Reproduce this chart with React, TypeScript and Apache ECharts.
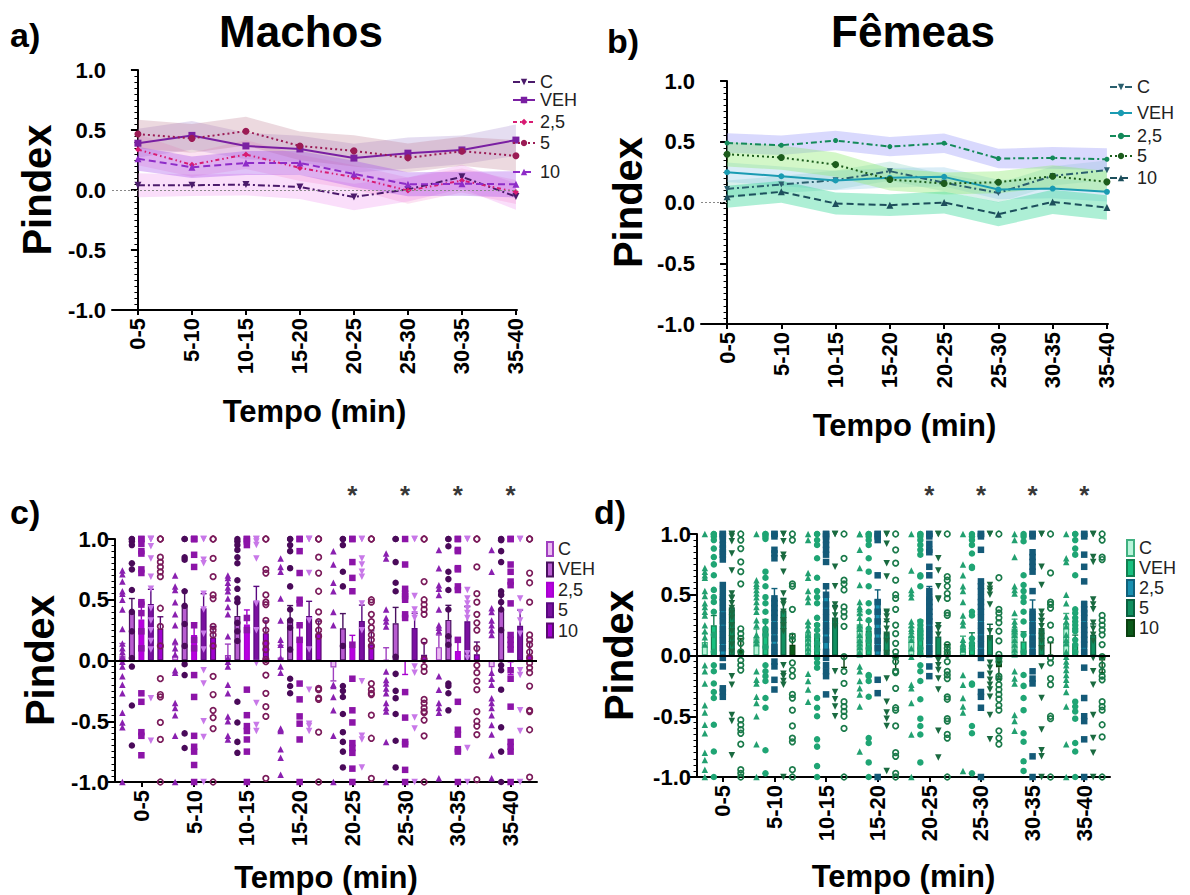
import React, { useEffect, useRef } from 'react';
import * as echarts from 'echarts';

const times = ['0-5', '5-10', '10-15', '15-20', '20-25', '25-30', '30-35', '35-40'];
const groups = ['C', 'VEH', '2,5', '5', '10'];
const starTimes = ['20-25', '25-30', '30-35', '35-40'];

// Machos: means and SEM
const mMeanC = [0.04, 0.04, 0.045, 0.025, -0.058, 0.005, 0.11, -0.055];
const mMeanVEH = [0.39, 0.455, 0.367, 0.342, 0.266, 0.307, 0.334, 0.416];
const mMean25 = [0.337, 0.21, 0.296, 0.184, 0.107, -0.005, 0.079, -0.016];
const mMean5 = [0.466, 0.43, 0.49, 0.367, 0.326, 0.268, 0.323, 0.285];
const mMean10 = [0.26, 0.19, 0.225, 0.225, 0.134, 0.047, 0.052, 0.047];
const mSemC = [0.1, 0.09, 0.09, 0.1, 0.11, 0.1, 0.1, 0.11];
const mSemVEH = [0.12, 0.12, 0.11, 0.11, 0.12, 0.13, 0.12, 0.13];
const mSem25 = [0.13, 0.1, 0.12, 0.11, 0.1, 0.11, 0.1, 0.1];
const mSem5 = [0.12, 0.12, 0.12, 0.12, 0.13, 0.12, 0.12, 0.13];
const mSem10 = [0.1, 0.09, 0.1, 0.1, 0.11, 0.1, 0.1, 0.11];

// Fêmeas: means and SEM
const fMeanC = [0.112, 0.148, 0.184, 0.258, 0.162, 0.079, 0.219, 0.266];
const fMeanVEH = [0.249, 0.216, 0.181, 0.203, 0.211, 0.107, 0.115, 0.088];
const fMean25 = [0.49, 0.471, 0.51, 0.46, 0.488, 0.362, 0.367, 0.356];
const fMean5 = [0.397, 0.37, 0.312, 0.189, 0.156, 0.167, 0.216, 0.17];
const fMean10 = [0.047, 0.088, -0.008, -0.022, 0.0, -0.096, 0.005, -0.041];
const fSemC = [0.07, 0.07, 0.08, 0.08, 0.07, 0.08, 0.08, 0.08];
const fSemVEH = [0.08, 0.08, 0.08, 0.08, 0.08, 0.08, 0.08, 0.08];
const fSem25 = [0.08, 0.08, 0.08, 0.08, 0.08, 0.08, 0.09, 0.09];
const fSem5 = [0.1, 0.1, 0.1, 0.09, 0.09, 0.09, 0.09, 0.09];
const fSem10 = [0.09, 0.09, 0.09, 0.09, 0.09, 0.1, 0.1, 0.1];

// Individual points, Machos (one list per time bin)
const mPtsC = [
  [0.74, 0.71, 0.65, 0.57, 0.55, 0.5, 0.42, 0.26, 0.14, 0.1, 0.07, 0.03, -0.01, -0.05, -0.13, -0.2, -0.27, -0.43, -0.51, -0.55, -1],
  [0.7, 0.61, 0.58, 0.48, 0.38, 0.29, 0.16, 0.1, 0.05, -0.08, -0.1, -0.35, -0.39, -0.45, -0.62, -1],
  [0.7, 0.68, 0.64, 0.6, 0.57, 0.51, 0.44, 0.38, 0.2, 0.02, -0.01, -0.05, -0.2, -0.27, -0.46, -0.5, -0.62, -0.65],
  [0.84, 0.77, 0.73, 0.51, 0.33, 0.17, 0.13, 0.02, -0.05, -0.1, -0.56, -0.57, -0.58, -0.73, -0.8, -0.94],
  [0.9, 0.79, 0.64, 0.57, 0.4, 0.29, -0.2, -0.21, -0.3, -0.41, -0.62, -1],
  [0.88, 0.84, 0.42, 0.35, 0.32, 0.28, -0.09, -0.16, -0.19, -0.23, -0.27, -0.35, -0.39, -0.42, -0.67, -1],
  [0.91, 0.76, 0.62, 0.59, 0.54, 0.42, 0.29, 0.27, 0.24, -0.13, -0.24, -0.35, -0.39, -0.43, -0.97],
  [0.91, 0.73, 0.43, 0.4, 0.33, 0.29, 0.25, 0.21, -0.1, -0.15, -0.2, -0.31, -0.35, -0.39, -0.45, -0.53, -0.61, -0.78, -0.97],
];
const mPtsVEH = [
  [1, 1, 0.98, 0.95, 0.8, 0.75, 0.58, 0.4, 0.24, 0.02, -0.05, -0.37, -0.7],
  [1, 1, 0.85, 0.83, 0.57, 0.45, 0.3, 0.12, -0.03, -0.12, -0.6, -0.72],
  [1, 0.98, 0.95, 0.91, 0.85, 0.8, 0.66, 0.59, 0.51, 0.48, 0.31, 0.24, 0.16, -0.34, -0.51, -0.67, -0.76],
  [1, 1, 0.95, 0.9, 0.76, 0.61, 0.42, 0.33, 0.27, 0.09, -0.15, -0.21, -0.27],
  [1, 1, 0.95, 0.73, 0.61, 0.12, -0.21, -0.25, -0.3, -0.44, -0.59, -0.67, -0.75, -0.88],
  [1, 1, 0.81, 0.64, 0.57, 0.03, -0.11, -0.25, -0.31, -0.44, -0.66, -0.88],
  [1, 1, 0.94, 0.73, 0.67, 0.58, 0.42, 0.2, 0.13, -0.19, -0.21, -0.27, -0.41],
  [1, 1, 0.99, 0.9, 0.81, 0.57, 0.54, 0.48, 0.42, 0.25, -0.04, -0.08, -0.24, -0.55, -0.75, -1],
];
const mPts25 = [
  [1, 1, 0.96, 0.9, 0.88, 0.75, 0.72, 0.48, 0.46, 0.39, 0.24, 0.1, -0.27, -0.34, -0.59, -0.62, -0.78],
  [1, 1, 1, 0.87, 0.77, 0.29, 0.17, 0.1, -0.12, -0.3, -0.62, -0.71, -0.75, -0.86, -1],
  [1, 1, 0.98, 0.95, 0.35, 0.25, -0.24, -0.45, -0.54, -0.58, -0.65, -0.75, -1],
  [1, 1, 0.9, 0.72, 0.5, 0.47, 0.29, 0.17, -0.19, -0.32, -0.46, -0.52, -0.65, -1],
  [1, 1, 0.81, 0.68, 0.57, 0.13, -0.15, -0.41, -0.51, -0.68, -0.72, -0.76, -0.89, -1],
  [1, 0.79, 0.59, 0.55, 0.53, 0.5, 0.38, 0.35, -0.26, -0.47, -0.67, -0.69, -0.9, -1],
  [1, 1, 0.91, 0.9, 0.76, 0.75, 0.61, 0.58, 0.17, -0.34, -0.57, -0.61, -0.73, -0.75, -1],
  [1, 1, 0.79, 0.73, 0.65, 0.62, 0.47, 0.21, 0.17, 0.13, 0.09, -0.08, -0.15, -0.38, -0.67, -0.71, -0.75, -1],
];
const mPts5 = [
  [1, 1, 1, 0.94, 0.84, 0.69, 0.59, 0.43, 0.33, 0.25, 0.16, 0.09, -0.31, -0.66],
  [1, 1, 0.83, 0.8, 0.55, 0.42, 0.22, 0.09, -0.08, -0.19, -0.5, -0.63, -1],
  [1, 1, 0.98, 0.95, 0.84, 0.47, 0.25, -0.02, -0.35, -0.53, -0.58],
  [1, 1, 1, 0.72, 0.33, 0.09, -0.24, -0.52, -0.54, -0.58],
  [1, 1, 0.84, 0.79, 0.73, 0.69, 0.47, 0.25, -0.17, -0.62, -0.65, -0.88],
  [1, 1, 0.53, 0.42, 0.38, 0.35, -0.05, -0.1, -0.47, -0.56, -1],
  [1, 1, 0.58, 0.51, 0.47, 0.43, 0.39, 0.35, 0.06, 0.02, -0.72, -1],
  [1, 1, 0.51, 0.4, 0.33, 0.22, -0.08, -0.12, -0.41, -0.58, -1],
];
const mPts10 = [
  [1, 1, 0.85, 0.81, 0.77, 0.73, 0.69, 0.43, 0.28, 0.12, -0.15, -0.28, -0.3, -0.51, -0.65, -1],
  [1, 1, 0.84, 0.69, 0.54, 0.51, 0.28, 0.25, 0.21, 0.12, -0.13, -0.28, -0.41, -0.47, -0.56, -1],
  [1, 1, 0.75, 0.72, 0.54, 0.48, 0.46, 0.33, 0.25, 0.14, 0.09, 0.01, -0.01, -0.12, -0.27, -0.38, -0.46, -0.97],
  [1, 1, 0.85, 0.72, 0.57, 0.4, 0.32, 0.25, 0.2, -0.23, -0.24, -0.31, -0.32, -0.59, -1],
  [1, 1, 0.5, 0.48, 0.38, 0.32, 0.27, 0.21, 0.17, 0.12, -0.19, -0.24, -0.27, -0.28, -0.45, -0.64, -0.97],
  [1, 1, 0.65, 0.5, 0.46, 0.42, 0.38, 0.16, 0.01, -0.05, -0.09, -0.32, -0.35, -0.39, -0.42, -0.43, -0.49, -0.62, -1],
  [1, 1, 0.77, 0.55, 0.48, 0.38, 0.31, 0.25, 0.1, -0.04, -0.1, -0.17, -0.24, -0.42, -0.5, -0.54, -0.61, -0.98],
  [1, 1, 0.72, 0.64, 0.48, 0.21, 0.17, 0.13, 0.07, 0.02, -0.02, -0.06, -0.1, -0.21, -0.41, -0.42, -0.57, -0.96],
];

// Individual points, Fêmeas
const fPtsC = [
  [1, 0.72, 0.69, 0.66, 0.64, 0.53, 0.49, 0.43, 0.4, 0.36, 0.33, 0.25, 0.2, 0.15, 0.09, -0.08, -0.13, -0.23, -0.41, -0.47, -0.57, -0.64, -0.8, -0.86, -0.94, -1],
  [1, 0.62, 0.59, 0.57, 0.54, 0.51, 0.48, 0.44, 0.4, 0.36, 0.29, 0.25, 0.17, 0.13, 0.1, -0.13, -0.2, -0.23, -0.34, -0.39, -0.5, -0.73, -1],
  [1, 0.95, 0.68, 0.64, 0.53, 0.48, 0.44, 0.28, 0.25, 0.21, 0.17, 0.14, 0.1, 0.06, 0.02, -0.15, -0.21, -0.28, -0.38],
  [1, 1, 0.87, 0.72, 0.58, 0.44, 0.4, 0.38, 0.35, 0.31, 0.25, 0.22, 0.17, 0.13, 0.1, 0.07, 0.03, 0.01, -0.09, -0.13, -0.21, -0.27, -0.32, -0.42, -0.79],
  [1, 0.7, 0.54, 0.51, 0.48, 0.28, 0.25, 0.22, 0.2, 0.17, 0.13, 0.06, -0.01, -0.24, -0.27, -0.39, -0.65, -1],
  [1, 0.75, 0.66, 0.57, 0.53, 0.44, 0.33, 0.28, 0.25, 0.13, 0.1, 0.07, 0.05, -0.16, -0.24, -0.35, -0.42, -0.47, -0.95],
  [1, 0.95, 0.81, 0.57, 0.54, 0.51, 0.35, 0.28, 0.25, 0.22, 0.2, 0.17, 0.13, 0.09, 0.05, 0.01, -0.13, -0.19, -0.23, -0.49, -0.54, -0.62],
  [1, 0.8, 0.77, 0.5, 0.43, 0.32, 0.28, 0.24, 0.17, 0.13, 0.1, 0.03, -0.01, -0.05, -0.08, -0.12, -0.16, -0.2, -0.24, -0.3, -0.42, -0.73, -1],
];
const fPtsVEH = [
  [1, 1, 0.98, 0.95, 0.88, 0.81, 0.75, 0.66, 0.54, 0.48, 0.44, 0.36, 0.17, 0.03, -0.08, -0.13, -0.23, -0.3, -0.35, -0.57, -0.79, -1],
  [1, 1, 0.98, 0.96, 0.69, 0.64, 0.57, 0.48, 0.43, 0.36, 0.28, 0.22, 0.17, 0.07, -0.08, -0.13, -0.17, -0.21, -0.35, -0.43, -0.78, -0.97],
  [1, 1, 0.95, 0.91, 0.8, 0.64, 0.53, 0.48, 0.43, 0.31, 0.25, 0.21, 0.16, 0.1, 0.05, -0.02, -0.06, -0.1, -0.35, -0.43, -0.5, -0.69, -0.75, -0.91, -1],
  [1, 1, 0.98, 0.95, 0.91, 0.8, 0.69, 0.57, 0.43, 0.36, 0.29, 0.22, 0.17, 0.12, 0.06, -0.16, -0.17, -0.21, -0.34, -0.68, -0.72, -0.88, -1],
  [1, 1, 0.98, 0.95, 0.91, 0.87, 0.83, 0.66, 0.65, 0.57, 0.28, 0.25, 0.22, 0.2, 0.17, 0.14, 0.06, 0.01, -0.08, -0.13, -0.21, -0.36, -0.52, -0.58, -0.65, -0.88],
  [1, 0.98, 0.95, 0.91, 0.84, 0.73, 0.72, 0.36, 0.33, 0.14, 0.1, 0.06, -0.23, -0.24, -0.58, -0.64, -0.97],
  [1, 0.98, 0.94, 0.66, 0.58, 0.53, 0.48, 0.44, 0.36, 0.28, 0.17, 0.03, -0.16, -0.25, -0.35, -0.45, -0.64, -0.71, -0.87, -0.95],
  [1, 1, 0.95, 0.88, 0.83, 0.66, 0.38, 0.35, 0.31, 0.28, 0.25, 0.22, 0.2, 0.13, 0.09, 0.03, -0.38, -0.42, -0.46, -0.52, -0.72, -0.79, -1],
];
const fPts25 = [
  [1, 1, 0.98, 0.95, 0.91, 0.88, 0.85, 0.83, 0.79, 0.58, 0.53, 0.48, 0.44, 0.39, 0.33, 0.28, 0.22, 0.17, 0.12, 0.06, -0.02, -0.09, -0.27, -0.3, -0.34],
  [1, 1, 0.98, 0.87, 0.84, 0.8, 0.47, 0.43, 0.39, 0.35, 0.31, 0.25, 0.2, 0.14, 0.07, 0.02, -0.05, -0.09, -0.2, -0.28],
  [1, 1, 0.98, 0.95, 0.91, 0.87, 0.83, 0.77, 0.57, 0.5, 0.42, 0.36, 0.31, 0.25, 0.2, 0.13, 0.03, -0.02, -0.08, -0.13, -0.17, -0.32],
  [1, 1, 0.98, 0.95, 0.66, 0.44, 0.36, 0.28, 0.2, 0.12, 0.06, -0.2, -0.31, -1],
  [1, 1, 0.98, 0.92, 0.87, 0.85, 0.73, 0.66, 0.53, 0.48, 0.44, 0.4, 0.36, 0.32, 0.28, 0.22, 0.17, 0.12, 0.06, 0.01, -0.09, -0.17],
  [1, 1, 0.98, 0.87, 0.61, 0.57, 0.53, 0.48, 0.44, 0.4, 0.36, 0.31, 0.25, 0.2, 0.14, 0.09, 0.03, -0.02, -0.16, -0.3, -0.34, -0.43, -1],
  [1, 1, 0.98, 0.85, 0.81, 0.77, 0.73, 0.69, 0.53, 0.36, 0.31, 0.25, 0.2, 0.14, 0.09, 0.03, -0.13, -0.19, -0.23, -0.83, -1],
  [1, 1, 0.98, 0.83, 0.73, 0.61, 0.42, 0.38, 0.35, 0.31, 0.25, 0.21, 0.17, 0.13, 0.09, 0.03, -0.1, -0.35, -0.5, -0.54, -0.69, -1],
];
const fPts5 = [
  [1, 1, 0.98, 0.94, 0.84, 0.7, 0.51, 0.47, 0.43, 0.39, 0.35, 0.31, 0.25, 0.2, 0.14, 0.09, 0.03, -0.17, -0.24, -0.49, -0.54, -0.82],
  [1, 1, 0.94, 0.83, 0.8, 0.69, 0.51, 0.44, 0.42, 0.36, 0.29, 0.25, 0.2, -0.08, -0.15, -0.17, -0.21, -0.24, -1],
  [1, 1, 0.73, 0.57, 0.42, 0.38, 0.33, 0.28, 0.24, -0.13, -0.3, -0.36, -0.42, -0.5],
  [1, 1, 0.92, 0.76, 0.65, 0.36, 0.35, 0.32, 0.28, 0.22, 0.17, 0.12, 0.02, -0.19, -0.38, -0.47, -0.52, -0.58, -0.95],
  [1, 1, 0.8, 0.7, 0.57, 0.47, 0.46, 0.25, 0.22, 0.17, -0.04, -0.08, -0.12, -0.19, -0.28, -0.62, -0.84],
  [1, 1, 0.58, 0.55, 0.53, 0.5, 0.42, 0.2, 0.14, -0.06, -0.1, -0.15, -0.2, -0.24, -0.28, -0.34, -0.49, -0.69],
  [1, 1, 0.73, 0.58, 0.36, 0.32, 0.28, 0.24, 0.2, 0.16, 0.12, 0.06, -0.09, -0.35, -0.61, -0.78, -0.83, -1],
  [1, 1, 0.81, 0.77, 0.46, 0.42, 0.38, 0.27, 0.22, 0.17, 0.12, -0.02, -0.13, -0.24, -0.49, -0.68, -0.8, -1],
];
const fPts10 = [
  [1, 0.95, 0.88, 0.77, 0.69, 0.59, 0.22, 0.18, 0.14, 0.1, 0.03, -0.04, -0.08, -0.12, -0.53, -0.57, -0.61, -0.64, -0.73, -0.94, -0.97, -1],
  [1, 0.95, 0.59, 0.57, 0.38, 0.16, 0.13, -0.06, -0.12, -0.17, -0.32, -0.35, -0.45, -0.58, -0.68, -0.71, -0.94, -1],
  [1, 0.8, 0.62, 0.59, 0.54, 0.4, 0.36, 0.32, 0.24, -0.01, -0.13, -0.23, -0.38, -0.42, -0.46, -0.5, -0.6, -1],
  [1, 0.87, 0.76, 0.62, 0.5, 0.47, 0.38, 0.25, 0.18, 0.1, 0.03, -0.01, -0.05, -0.13, -0.14, -0.27, -0.43, -0.45, -0.58, -0.8, -0.83, -0.97, -1],
  [1, 0.65, 0.62, 0.57, 0.51, 0.47, 0.35, 0.33, 0.09, 0.06, 0.03, 0.01, -0.05, -0.13, -0.16, -0.19, -0.34, -0.36, -0.52, -0.54, -0.65, -0.68, -1],
  [1, 0.64, 0.38, 0.35, 0.31, 0.27, 0.2, 0.12, 0.01, -0.02, -0.05, -0.17, -0.19, -0.24, -0.28, -0.32, -0.36, -0.41, -0.45, -0.62, -0.68, -0.73],
  [1, 0.68, 0.44, 0.42, 0.39, 0.25, 0.13, -0.02, -0.06, -0.19, -0.24, -0.5, -0.52, -1],
  [1, 0.95, 0.81, 0.79, 0.33, 0.29, 0.25, 0.21, 0.17, 0.09, -0.01, -0.08, -0.13, -0.17, -0.2, -0.38, -0.42, -0.45, -0.57, -0.67, -1],
];

const FONT = '"Liberation Sans", Arial, Helvetica, sans-serif';

const maleLine = [
  { color: '#4b1a6b', symbol: 'triangle', rot: 180, size: 7, dash: [7, 3, 2, 3], band: 'rgba(242,160,242,0.35)' },
  { color: '#7a1fa2', symbol: 'rect', rot: 0, size: 7, dash: 'solid', band: 'rgba(175,150,210,0.32)' },
  { color: '#d81b72', symbol: 'diamond', rot: 0, size: 6, dash: [4, 3, 1.5, 3, 1.5, 3], band: 'rgba(240,110,190,0.2)' },
  { color: '#9b1b55', symbol: 'circle', rot: 0, size: 7, dash: [2, 3], band: 'rgba(185,120,140,0.28)' },
  { color: '#8e2cc8', symbol: 'triangle', rot: 0, size: 7, dash: [7, 4], band: 'rgba(165,80,235,0.35)' },
];
const femaleLine = [
  { color: '#2a5f6e', symbol: 'triangle', rot: 180, size: 6, dash: [7, 3, 2, 3], band: 'rgba(80,190,170,0.22)' },
  { color: '#1a9bb2', symbol: 'circle', rot: 0, size: 6, dash: 'solid', band: 'rgba(140,200,230,0.32)' },
  { color: '#148a5a', symbol: 'circle', rot: 0, size: 5, dash: [6, 3, 2, 3], band: 'rgba(165,165,250,0.42)' },
  { color: '#1c5c1c', symbol: 'circle', rot: 0, size: 7, dash: [2, 3], band: 'rgba(140,235,110,0.38)' },
  { color: '#1d4f5c', symbol: 'triangle', rot: 0, size: 7, dash: [7, 4], band: 'rgba(50,215,150,0.4)' },
];
const maleBar = [
  { fill: '#ebbcf2', border: '#a040c0', pt: '#8a20b0', sym: 'triangle', rot: 0, hollow: false },
  { fill: '#b85cd0', border: '#4a1060', pt: '#4a0a5a', sym: 'circle', rot: 0, hollow: false },
  { fill: '#b800e0', border: '#a800d0', pt: '#8c14a8', sym: 'rect', rot: 0, hollow: false },
  { fill: '#7a10a0', border: '#5a0880', pt: '#c878e8', sym: 'triangle', rot: 180, hollow: false },
  { fill: '#a000d0', border: '#5a0a70', pt: '#7a1a5a', sym: 'circle', rot: 0, hollow: true },
];
const femaleBar = [
  { fill: '#b8f5da', border: '#40b080', pt: '#22a070', sym: 'triangle', rot: 0, hollow: false },
  { fill: '#18c080', border: '#108050', pt: '#1fa574', sym: 'circle', rot: 0, hollow: false },
  { fill: '#1890b0', border: '#10607a', pt: '#145a78', sym: 'rect', rot: 0, hollow: false },
  { fill: '#109060', border: '#0a6040', pt: '#1a6a40', sym: 'triangle', rot: 180, hollow: false },
  { fill: '#0a5a1a', border: '#0a4010', pt: '#1a7a4a', sym: 'circle', rot: 0, hollow: true },
];

const mMeans = [mMeanC, mMeanVEH, mMean25, mMean5, mMean10];
const mSems = [mSemC, mSemVEH, mSem25, mSem5, mSem10];
const fMeans = [fMeanC, fMeanVEH, fMean25, fMean5, fMean10];
const fSems = [fSemC, fSemVEH, fSem25, fSem5, fSem10];
const mPts = [mPtsC, mPtsVEH, mPts25, mPts5, mPts10];
const fPts = [fPtsC, fPtsVEH, fPts25, fPts5, fPts10];

const yAxisCfg = (gridIndex: number, nameGap: number) => ({
  type: 'value', gridIndex, min: -1, max: 1, interval: 0.5,
  name: 'Pindex', nameLocation: 'middle', nameGap, nameRotate: 90,
  nameTextStyle: { fontSize: 40, fontWeight: 'bold', color: '#000', fontFamily: FONT },
  axisLine: { show: true, lineStyle: { color: '#000', width: 2 } },
  axisTick: { show: true, length: 7, lineStyle: { color: '#000', width: 2 } },
  minorTick: { show: true, splitNumber: 10, length: 3.5, lineStyle: { color: '#000', width: 1 } },
  splitLine: { show: false },
  axisLabel: { formatter: (v: number) => v.toFixed(1), fontSize: 22, fontWeight: 'bold', color: '#000', margin: 6, fontFamily: FONT },
});

const xNameCfg = (nameGap: number) => ({
  name: 'Tempo (min)', nameLocation: 'middle', nameGap,
  nameTextStyle: { fontSize: 31, fontWeight: 'bold', color: '#000', fontFamily: FONT },
});
const xLabelCfg = { rotate: 90, fontSize: 22, fontWeight: 'bold', color: '#000', margin: 8, fontFamily: FONT };

const xValAxis = (gridIndex: number, nameGap: number) => ({
  type: 'value', gridIndex, min: -0.48, max: 7.02, ...xNameCfg(nameGap),
  axisLine: { show: true, onZero: false, lineStyle: { color: '#000', width: 2 } },
  axisTick: { show: true, length: 5, customValues: times.map((_, i) => i), lineStyle: { color: '#000', width: 2 } },
  axisLabel: { ...xLabelCfg, customValues: times.map((_, i) => i), formatter: (v: number) => times[Math.round(v)] ?? '' },
  splitLine: { show: false },
});
const xCatAxis = (gridIndex: number, nameGap: number) => ({
  type: 'category', gridIndex, data: times, boundaryGap: true, ...xNameCfg(nameGap),
  axisLine: { show: true, onZero: false, lineStyle: { color: '#000', width: 2 } },
  axisTick: { show: true, alignWithLabel: true, length: 5, lineStyle: { color: '#000', width: 2 } },
  axisLabel: { ...xLabelCfg, interval: 0 },
  splitLine: { show: false },
});
const xHidden = (gridIndex: number) => ({ type: 'value', gridIndex, min: 0, max: times.length, show: false });

function linePanel(tag: string, xi: number, yi: number, means: number[][], sems: number[][], styles: any[], zeroLine: any) {
  const series: any[] = [];
  means.forEach((mean, g) => {
    const sem = sems[g];
    const st = styles[g];
    series.push({
      type: 'custom', xAxisIndex: xi, yAxisIndex: yi, silent: true, z: 1, clip: false,
      data: mean.map((m, i) => [i, m - sem[i], m + sem[i]]),
      encode: { x: 0, y: [1, 2] },
      renderItem: (params: any, api: any) => {
        if (params.dataIndex !== 0) return null;
        const upper = mean.map((m, i) => api.coord([i, m + sem[i]]));
        const lower = mean.map((m, i) => api.coord([i, m - sem[i]])).reverse();
        return { type: 'polygon', shape: { points: upper.concat(lower) }, style: { fill: st.band } };
      },
    });
  });
  means.forEach((mean, g) => {
    const st = styles[g];
    series.push({
      type: 'line', name: tag + ':' + groups[g], xAxisIndex: xi, yAxisIndex: yi,
      data: mean.map((m, i) => [i, m]), symbol: st.symbol, symbolRotate: st.rot, symbolSize: st.size,
      lineStyle: { color: st.color, width: 2, type: st.dash }, itemStyle: { color: st.color }, z: 3,
      markLine: g === 0 ? zeroLine : undefined,
    });
  });
  return series;
}

function barPanel(tag: string, xc: number, xv: number, yi: number, means: number[][], sems: number[][], pts: number[][][], styles: any[], off: number, barGap: string, starDist: number) {
  const series: any[] = [];
  means.forEach((mean, g) => {
    const st = styles[g];
    series.push({
      type: 'bar', name: tag + ':' + groups[g], xAxisIndex: xc, yAxisIndex: yi, data: mean,
      barWidth: 6, barGap, itemStyle: { color: st.fill, borderColor: st.border, borderWidth: 1.2 }, z: 2,
      markLine: g === 0 ? {
        silent: true, symbol: 'none', label: { show: false }, z: 5,
        lineStyle: { color: '#000', width: 2, type: 'solid' }, data: [{ yAxis: 0 }],
      } : undefined,
    });
  });
  means.forEach((mean, g) => {
    const st = styles[g];
    series.push({
      type: 'custom', xAxisIndex: xv, yAxisIndex: yi, clip: false, z: 3, silent: true,
      data: mean.map((m, i) => [i + 0.5 + (g - 2) * off, m, sems[g][i]]),
      encode: { x: 0, y: 1 },
      renderItem: (_p: any, api: any) => {
        const x = api.value(0), m = api.value(1), s = api.value(2);
        const end = m >= 0 ? m + s : m - s;
        const p0 = api.coord([x, m]);
        const p1 = api.coord([x, end]);
        return {
          type: 'group', children: [
            { type: 'line', shape: { x1: p0[0], y1: p0[1], x2: p1[0], y2: p1[1] }, style: { stroke: st.border, lineWidth: 1.4 } },
            { type: 'line', shape: { x1: p1[0] - 3, y1: p1[1], x2: p1[0] + 3, y2: p1[1] }, style: { stroke: st.border, lineWidth: 1.4 } },
          ],
        };
      },
    });
  });
  pts.forEach((byTime, g) => {
    const st = styles[g];
    const data: number[][] = [];
    byTime.forEach((vals, i) => vals.forEach((v) => data.push([i + 0.5 + (g - 2) * off, v])));
    series.push({
      type: 'scatter', xAxisIndex: xv, yAxisIndex: yi, data, clip: false, silent: true, z: 4,
      symbol: st.sym, symbolRotate: st.rot, symbolSize: st.hollow ? 5.5 : 6.5,
      itemStyle: st.hollow
        ? { color: 'rgba(255,255,255,0)', borderColor: st.pt, borderWidth: 1.7, opacity: 1 }
        : { color: st.pt, opacity: 1 },
    });
  });
  series.push({
    type: 'scatter', xAxisIndex: xc, yAxisIndex: yi, clip: false, silent: true, z: 6,
    data: starTimes.map((t) => [t, 1]), symbolSize: 1, itemStyle: { color: 'rgba(0,0,0,0)' },
    label: { show: true, formatter: '*', position: 'top', distance: starDist, fontSize: 26, fontWeight: 'bold', color: '#000', fontFamily: FONT },
  });
  return series;
}

const lineLegend = (tag: string, left: number, tops: number[]) =>
  groups.map((g, k) => ({
    data: [tag + ':' + g], left, top: tops[k], orient: 'vertical', padding: 0, itemGap: 0,
    itemWidth: 22, itemHeight: 8, selectedMode: false,
    formatter: (n: string) => n.split(':')[1],
    textStyle: { fontSize: 18, color: '#222', fontFamily: FONT },
  }));

const barLegend = (tag: string, left: number, top: number, w: number, h: number, gap: number) => ({
  data: groups.map((g) => tag + ':' + g), left, top, orient: 'vertical', padding: 0, itemGap: gap,
  itemWidth: w, itemHeight: h, icon: 'rect', selectedMode: false,
  formatter: (n: string) => n.split(':')[1],
  textStyle: { fontSize: 18, color: '#222', fontFamily: FONT },
});

const txt = (text: string, x: number, y: number, size: number, align = 'left') => ({
  type: 'text', x, y, silent: true,
  style: { text, font: `bold ${size}px ${FONT}`, fill: '#000', textAlign: align, textVerticalAlign: 'middle' },
});

export default function App() {
  const ref = useRef<HTMLDivElement>(null);
  useEffect(() => {
    if (!ref.current) return;
    const chart = echarts.init(ref.current, null, { renderer: 'svg' });
    const option: any = {
      animation: false,
      backgroundColor: '#fff',
      textStyle: { fontFamily: FONT },
      grid: [
        { left: 112, top: 70, width: 405, height: 240, containLabel: false, outerBoundsMode: 'none' },
        { left: 701, top: 81, width: 407, height: 243, containLabel: false, outerBoundsMode: 'none' },
        { left: 115, top: 539, width: 422, height: 243, containLabel: false, outerBoundsMode: 'none' },
        { left: 697, top: 534, width: 413, height: 243, containLabel: false, outerBoundsMode: 'none' },
      ],
      xAxis: [
        xValAxis(0, 86),
        xValAxis(1, 86),
        xCatAxis(2, 80),
        xHidden(2),
        xCatAxis(3, 84),
        xHidden(3),
      ],
      yAxis: [yAxisCfg(0, 55), yAxisCfg(1, 53), yAxisCfg(2, 55), yAxisCfg(3, 58)],
      legend: [
        ...lineLegend('a', 512, [73, 91, 113, 134, 163]),
        ...lineLegend('b', 1109, [78, 104, 127, 147, 169]),
        barLegend('c', 546, 540, 6, 14, 2.4),
        barLegend('d', 1126, 539, 7, 16, 2),
      ],
      graphic: [
        txt('a)', 10, 35, 34),
        txt('Machos', 301, 31, 44, 'center'),
        txt('b)', 607, 41, 34),
        txt('Fêmeas', 913, 31, 44, 'center'),
        txt('c)', 10, 512, 34),
        txt('d)', 594, 512, 34),
      ],
      series: [
        ...linePanel('a', 0, 0, mMeans, mSems, maleLine, {
          silent: true, symbol: 'none', label: { show: false },
          lineStyle: { color: '#888', width: 1, type: [2, 2] }, data: [{ yAxis: 0 }],
        }),
        ...linePanel('b', 1, 1, fMeans, fSems, femaleLine, {
          silent: true, symbol: 'none', label: { show: false },
          lineStyle: { color: '#888', width: 1, type: [2, 2] }, data: [[{ coord: [-0.48, 0] }, { coord: [0, 0] }]],
        }),
        ...barPanel('c', 2, 3, 2, mMeans, mSems, mPts, maleBar, 0.18, '58%', 31),
        ...barPanel('d', 4, 5, 3, fMeans, fSems, fPts, femaleBar, 0.174, '50%', 26),
      ],
    };
    chart.setOption(option);
    return () => chart.dispose();
  }, []);
  return <div ref={ref} style={{ position: 'absolute', left: 0, top: 0, width: 1190, height: 895, background: '#fff' }} />;
}
